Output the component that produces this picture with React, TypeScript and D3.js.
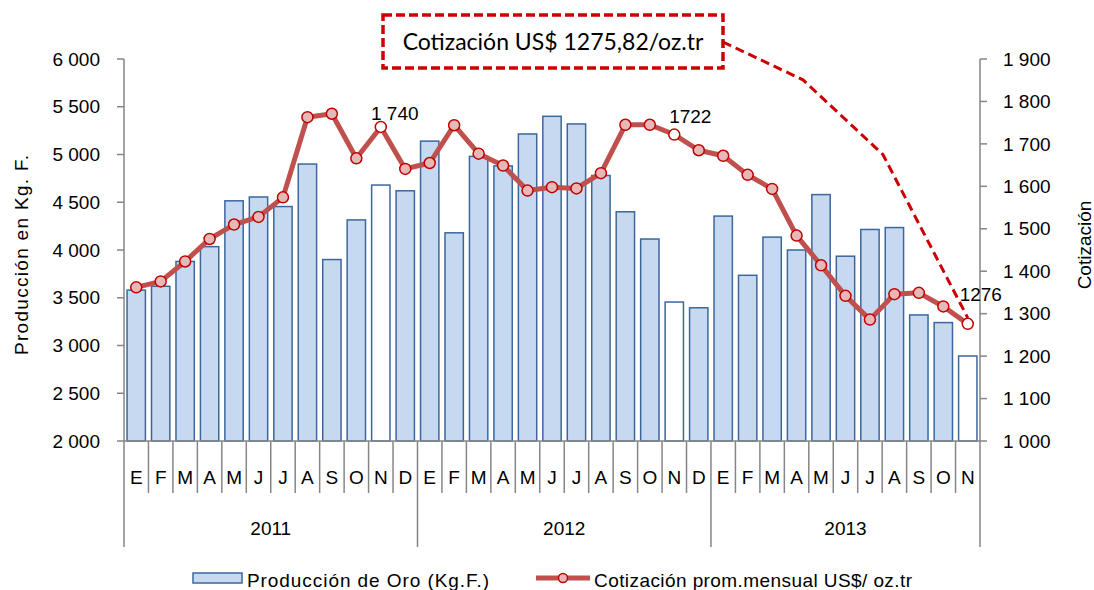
import React from 'react'
import * as d3 from 'd3'

const years = ['2011', '2012', '2013']
const monthsByYear = [
  ['E', 'F', 'M', 'A', 'M', 'J', 'J', 'A', 'S', 'O', 'N', 'D'],
  ['E', 'F', 'M', 'A', 'M', 'J', 'J', 'A', 'S', 'O', 'N', 'D'],
  ['E', 'F', 'M', 'A', 'M', 'J', 'J', 'A', 'S', 'O', 'N'],
]

// Producción de Oro (Kg.F.)
const produccion = [
  3580, 3620, 3880, 4035, 4515, 4555, 4455, 4900, 3900, 4315, 4680, 4620,
  5140, 4180, 4980, 4880, 5215, 5400, 5320, 4780, 4400, 4115, 3455, 3395,
  4355, 3735, 4135, 4000, 4580, 3935, 4215, 4235, 3320, 3240, 2890,
]

// Cotización prom.mensual US$/oz.tr
const cotizacion = [
  1362, 1376, 1423, 1476, 1510, 1528, 1574, 1763, 1771, 1666, 1740, 1641,
  1655, 1744, 1677, 1649, 1590, 1598, 1595, 1631, 1745, 1745, 1722, 1685,
  1672, 1627, 1594, 1484, 1414, 1342, 1286, 1346, 1349, 1317, 1276,
]

// months drawn as hollow (white) bars / markers
const highlighted = [10, 22, 34]
const pointLabels = [
  { i: 10, text: '1 740', dx: 14, dy: -14 },
  { i: 22, text: '1722', dx: 16, dy: -18 },
  { i: 34, text: '1276', dx: 13, dy: -30 },
]

const leftTicks = [2000, 2500, 3000, 3500, 4000, 4500, 5000, 5500, 6000]
const rightTicks = [1000, 1100, 1200, 1300, 1400, 1500, 1600, 1700, 1800, 1900]

// annotation path in (category position, cotización) units
const calloutPath = [
  { pos: 27.76, v: 1851 },
  { pos: 31.03, v: 1675 },
]

const fmt = (v: number) => {
  const s = String(v)
  return s.length > 3 ? s.slice(0, s.length - 3) + ' ' + s.slice(-3) : s
}

const FONT = 'Liberation Sans, Arial, sans-serif'
const AXIS = '#868686'
const FS = 19

export default function App() {
  const W = 1094
  const H = 590
  const m = { left: 124, right: 980, top: 59, bottom: 441 }

  const labels = monthsByYear.flat()
  const idx = labels.map((_, i) => i)
  const x = d3.scaleBand<number>().domain(idx).range([m.left, m.right])
    .paddingInner(0.25).paddingOuter(0.125)
  const step = (m.right - m.left) / labels.length
  const cx = (i: number) => (x(i) || 0) + x.bandwidth() / 2
  const posX = (p: number) => m.left + p * step

  const yL = d3.scaleLinear().domain([2000, 6000]).range([m.bottom, m.top])
  const yR = d3.scaleLinear().domain([1000, 1900]).range([m.bottom, m.top])

  const line = d3.line<number>().x((_, i) => cx(i)).y(d => yR(d))

  const yearStarts: number[] = []
  let acc = 0
  monthsByYear.forEach(ms => { yearStarts.push(acc); acc += ms.length })
  yearStarts.push(acc)

  const last = cotizacion.length - 1
  const box = { x: 383, y: 15, w: 340, h: 53 }
  const callPts: [number, number][] = [
    [box.x + box.w, box.y + 27],
    ...calloutPath.map(p => [posX(p.pos), yR(p.v)] as [number, number]),
    [cx(last), yR(cotizacion[last]) - 6],
  ]

  return (
    <div style={{ position: 'absolute', left: 0, top: 0, background: '#fff' }}>
      <svg width={W} height={H} style={{ display: 'block', fontFamily: FONT }}>
        {/* bars */}
        {produccion.map((v, i) => (
          <rect key={'b' + i} x={x(i)} y={yL(v)} width={x.bandwidth()} height={m.bottom - yL(v)}
            fill={highlighted.includes(i) ? '#ffffff' : '#c6d9f1'} stroke="#3d679c" strokeWidth={1.5} />
        ))}

        {/* left axis */}
        <line x1={m.left} x2={m.left} y1={m.top} y2={m.bottom} stroke={AXIS} strokeWidth={1.5} />
        {leftTicks.map(t => (
          <g key={'l' + t}>
            <line x1={m.left - 7} x2={m.left} y1={yL(t)} y2={yL(t)} stroke={AXIS} strokeWidth={1.5} />
            <text x={100} y={yL(t)} dy="0.35em" textAnchor="end" fontSize={FS} fill="#000">{fmt(t)}</text>
          </g>
        ))}
        <text transform={`translate(21,255) rotate(-90)`} textAnchor="middle" dy="0.35em" fontSize={FS}
          textLength={200} lengthAdjust="spacing">
          Producción en Kg. F.
        </text>

        {/* right axis */}
        <line x1={m.right} x2={m.right} y1={m.top} y2={m.bottom} stroke={AXIS} strokeWidth={1.5} />
        {rightTicks.map(t => (
          <g key={'r' + t}>
            <line x1={m.right} x2={m.right + 7} y1={yR(t)} y2={yR(t)} stroke={AXIS} strokeWidth={1.5} />
            <text x={1003} y={yR(t)} dy="0.35em" textAnchor="start" fontSize={FS} fill="#000">{fmt(t)}</text>
          </g>
        ))}
        <text transform={`translate(1084,245) rotate(-90)`} textAnchor="middle" dy="0.35em" fontSize={FS}>
          Cotización
        </text>

        {/* category axis */}
        <line x1={m.left} x2={m.right} y1={m.bottom} y2={m.bottom} stroke={AXIS} strokeWidth={1.5} />
        {d3.range(labels.length + 1).map(i => (
          <line key={'t' + i} x1={posX(i)} x2={posX(i)} y1={m.bottom}
            y2={yearStarts.includes(i) ? 547 : 493} stroke={AXIS} strokeWidth={1.5} />
        ))}
        {labels.map((l, i) => (
          <text key={'m' + i} x={cx(i)} y={477} dy="0.35em" textAnchor="middle" fontSize={FS}>{l}</text>
        ))}
        {years.map((yr, k) => (
          <text key={yr} x={(posX(yearStarts[k]) + posX(yearStarts[k + 1])) / 2} y={528} dy="0.35em"
            textAnchor="middle" fontSize={FS}>{yr}</text>
        ))}

        {/* line series */}
        <path d={line(cotizacion) || ''} fill="none" stroke="#c0504d" strokeWidth={5} strokeLinejoin="round" />
        {cotizacion.map((v, i) => (
          <circle key={'c' + i} cx={cx(i)} cy={yR(v)} r={5.5}
            fill={highlighted.includes(i) ? '#ffffff' : '#e6b9b8'} stroke="#c00000" strokeWidth={1.5} />
        ))}
        {pointLabels.map(p => (
          <text key={'pl' + p.i} x={cx(p.i) + p.dx} y={yR(cotizacion[p.i]) + p.dy} dy="0.35em"
            textAnchor="middle" fontSize={FS}>{p.text}</text>
        ))}

        {/* callout */}
        <path d={d3.line()(callPts) || ''} fill="none" stroke="#cc0000" strokeWidth={3} strokeDasharray="9,5" />
        <rect x={box.x} y={box.y} width={box.w} height={box.h} fill="#fff" stroke="#cc0000"
          strokeWidth={3.5} strokeDasharray="9,4" />
        <text x={box.x + box.w / 2} y={box.y + box.h / 2} dy="0.35em" textAnchor="middle" fontSize={23}
          fontFamily="Lato, 'Open Sans', sans-serif">Cotización US$ 1275,82/oz.tr</text>

        {/* legend */}
        <rect x={193} y={573} width={49} height={10} fill="#c6d9f1" stroke="#3d679c" strokeWidth={1.5} />
        <text x={247} y={580} dy="0.35em" fontSize={FS} textLength={242} lengthAdjust="spacing">
          Producción de Oro (Kg.F.)
        </text>
        <line x1={536} x2={590} y1={578} y2={578} stroke="#c0504d" strokeWidth={5} />
        <circle cx={563} cy={578} r={4.5} fill="#e6b9b8" stroke="#c00000" strokeWidth={1.5} />
        <text x={594} y={580} dy="0.35em" fontSize={FS} textLength={318} lengthAdjust="spacing">
          Cotización prom.mensual US$/ oz.tr
        </text>
      </svg>
    </div>
  )
}
